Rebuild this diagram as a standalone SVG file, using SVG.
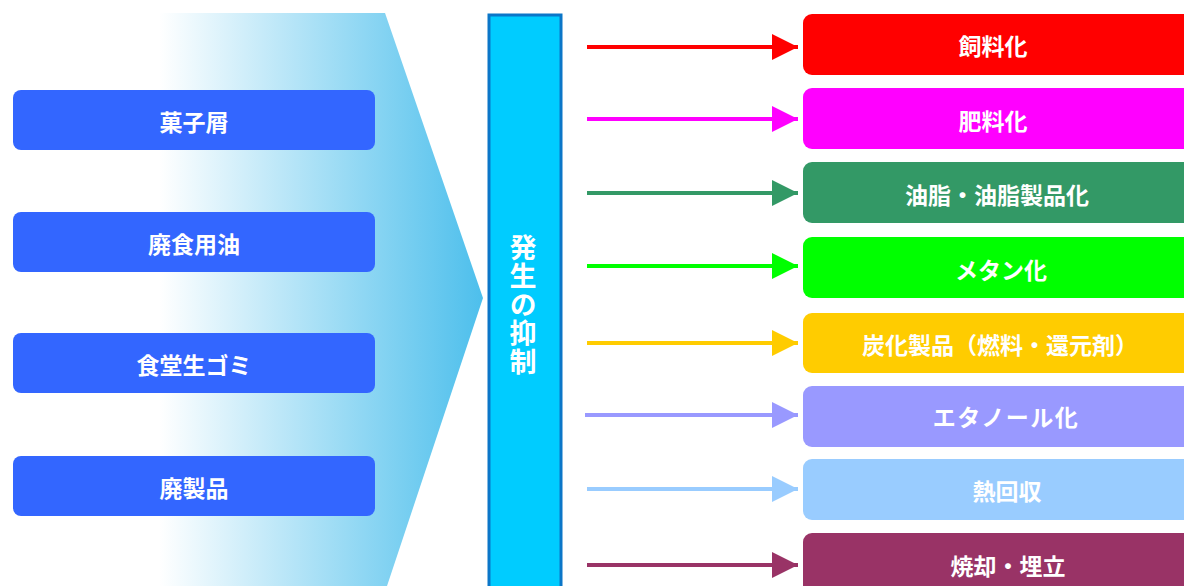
<svg xmlns="http://www.w3.org/2000/svg" width="1184" height="586" viewBox="0 0 1184 586">
<defs>
<linearGradient id="chev" x1="0" y1="0" x2="1" y2="0" gradientUnits="objectBoundingBox">
<stop offset="0" stop-color="#ffffff"/>
<stop offset="0.33" stop-color="#ffffff"/>
<stop offset="1" stop-color="#4dbfec"/>
</linearGradient>
<marker id="ah" viewBox="0 0 10 10" refX="10" refY="5" markerWidth="6.5" markerHeight="6.5" markerUnits="strokeWidth" orient="auto">
<path d="M0,0 L10,5 L0,10 Z" fill="context-stroke"/>
</marker>
</defs>
<style>
.lbox{fill:#3366ff}
.t{font-family:"Noto Sans CJK JP","Noto Sans",sans-serif;font-weight:bold;font-size:23px;fill:#ffffff;text-anchor:middle;dominant-baseline:central}
.v{font-family:"Noto Sans CJK JP","Noto Sans",sans-serif;font-weight:bold;font-size:27px;fill:#ffffff;writing-mode:vertical-rl;text-anchor:middle;letter-spacing:1.5px}
.a{stroke-width:4;fill:none}
</style>
<rect width="1184" height="586" fill="#ffffff"/>
<polygon id="chevron" points="0,13 385,13 483,298 387,586 0,586" fill="url(#chev)"/>
<g id="src1"><rect class="lbox" x="13" y="90" width="362" height="60" rx="8"/><text class="t" x="194" y="121">菓子屑</text></g>
<g id="src2"><rect class="lbox" x="13" y="212" width="362" height="60" rx="8"/><text class="t" x="194" y="243">廃食用油</text></g>
<g id="src3"><rect class="lbox" x="13" y="333" width="362" height="60" rx="8"/><text class="t" x="194" y="364">食堂生ゴミ</text></g>
<g id="src4"><rect class="lbox" x="13" y="456" width="362" height="60" rx="8"/><text class="t" x="194" y="487">廃製品</text></g>
<g id="suppress">
<rect x="489" y="15" width="72" height="580" fill="#00ccff" stroke="#0b76c8" stroke-width="3"/>
<text class="v" x="523" y="305">発生の抑制</text>
</g>
<g id="connectors">
<line class="a" x1="587" y1="47" x2="798" y2="47" stroke="#ff0000" marker-end="url(#ah)"/>
<line class="a" x1="587" y1="119" x2="798" y2="119" stroke="#ff00ff" marker-end="url(#ah)"/>
<line class="a" x1="587" y1="193" x2="798" y2="193" stroke="#339966" marker-end="url(#ah)"/>
<line class="a" x1="587" y1="266" x2="798" y2="266" stroke="#00ff00" marker-end="url(#ah)"/>
<line class="a" x1="587" y1="343" x2="798" y2="343" stroke="#ffcc00" marker-end="url(#ah)"/>
<line class="a" x1="585" y1="415" x2="798" y2="415" stroke="#9999ff" marker-end="url(#ah)"/>
<line class="a" x1="587" y1="489" x2="798" y2="489" stroke="#99ccff" marker-end="url(#ah)"/>
<line class="a" x1="587" y1="565" x2="798" y2="565" stroke="#993366" marker-end="url(#ah)"/>
</g>
<g id="out1"><rect x="803" y="14" width="400" height="61" rx="9" fill="#ff0000"/><text class="t" x="993" y="45">飼料化</text></g>
<g id="out2"><rect x="803" y="88" width="400" height="61" rx="9" fill="#ff00ff"/><text class="t" x="993" y="120">肥料化</text></g>
<g id="out3"><rect x="803" y="162" width="400" height="61" rx="9" fill="#339966"/><text class="t" x="997" y="194">油脂・油脂製品化</text></g>
<g id="out4"><rect x="803" y="237" width="400" height="61" rx="9" fill="#00ff00"/><text class="t" x="1001" y="269">メタン化</text></g>
<g id="out5"><rect x="803" y="313" width="400" height="60" rx="9" fill="#ffcc00"/><text class="t" x="1000" y="344">炭化製品（燃料・還元剤）</text></g>
<g id="out6"><rect x="803" y="386" width="400" height="61" rx="9" fill="#9999ff"/><text class="t" x="1006" y="416" style="letter-spacing:1.5px">エタノール化</text></g>
<g id="out7"><rect x="803" y="459" width="400" height="61" rx="9" fill="#99ccff"/><text class="t" x="1007" y="490">熱回収</text></g>
<g id="out8"><rect x="803" y="533" width="400" height="61" rx="9" fill="#993366"/><text class="t" x="1008" y="565">焼却・埋立</text></g>
</svg>
